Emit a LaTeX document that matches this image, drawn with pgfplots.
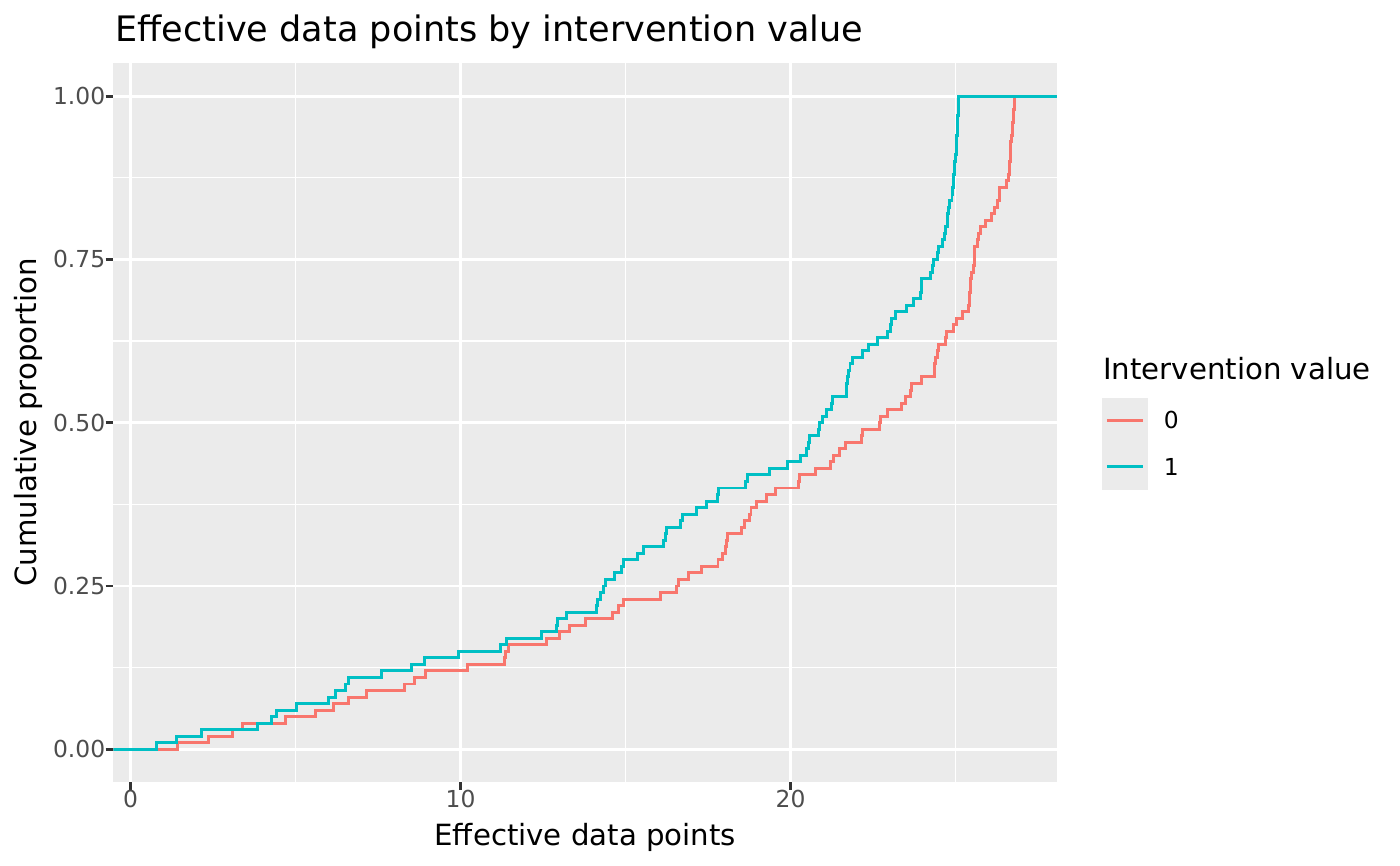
\documentclass[border=0pt]{standalone}
\usepackage{fontspec}
\setmainfont{DejaVu Sans}
\usepackage{pgfplots}
\pgfplotsset{compat=1.18}
\definecolor{cRed}{HTML}{F8766D}
\definecolor{cCyan}{HTML}{00BFC4}
\definecolor{panelbg}{HTML}{EBEBEB}
\definecolor{grey30}{HTML}{4D4D4D}
\definecolor{grey20}{HTML}{333333}
\begin{document}
\begin{tikzpicture}
\path[use as bounding box] (0,0) rectangle (504bp,311.76bp);
\begin{axis}[
  at={(40.8bp,30.24bp)}, anchor=south west,
  scale only axis, width=339.7bp, height=258.7bp,
  xmin=-0.52, xmax=28.07, ymin=-0.05, ymax=1.05,
  axis background/.style={fill=panelbg},
  axis line style={draw=none},
  xtick={0,10,20}, xticklabels={0,10,20},
  ytick={0,0.25,0.5,0.75,1}, yticklabels={0.00,0.25,0.50,0.75,1.00},
  minor xtick={5,15,25}, minor ytick={0.125,0.375,0.625,0.875},
  xtick pos=lower, ytick pos=left,
  tick align=outside,
  major tick length=2.75pt, minor tick length=0pt,
  major tick style={grey20, line width=1.07pt},
  minor tick style={draw=none},
  grid=both,
  major grid style={white, line width=1.07pt},
  minor grid style={white, line width=0.53pt},
  ticklabel style={font=\fontsize{8.45}{10}\selectfont, text=grey30},
  xticklabel style={anchor=north, inner sep=0pt},
  yticklabel style={anchor=east, inner sep=0pt},
]
% Intervention value 0
\addplot[const plot, cRed, line width=1.07pt] coordinates {
(-0.52,0) (1.42,0.01) (2.36,0.02) (3.10,0.03) (3.40,0.04) (4.70,0.05)
(5.60,0.06) (6.15,0.07) (6.60,0.08) (7.15,0.09) (8.30,0.10) (8.60,0.11)
(8.95,0.12) (10.20,0.13) (11.33,0.14) (11.36,0.15) (11.45,0.16) (12.60,0.17)
(13.00,0.18) (13.30,0.19) (13.80,0.20) (14.60,0.21) (14.80,0.22) (14.95,0.23)
(16.05,0.24) (16.55,0.25) (16.60,0.26) (16.90,0.27) (17.30,0.28) (17.80,0.29)
(17.95,0.30) (18.02,0.31) (18.05,0.32) (18.10,0.33) (18.50,0.34) (18.60,0.35)
(18.75,0.36) (18.80,0.37) (18.97,0.38) (19.27,0.39) (19.55,0.40) (20.23,0.41)
(20.26,0.42) (20.74,0.43) (21.20,0.44) (21.30,0.45) (21.48,0.46) (21.65,0.47)
(22.14,0.48) (22.17,0.49) (22.69,0.50) (22.72,0.51) (22.93,0.52) (23.37,0.53)
(23.47,0.54) (23.62,0.55) (23.65,0.56) (23.98,0.57) (24.35,0.58) (24.37,0.59)
(24.39,0.60) (24.46,0.61) (24.49,0.62) (24.68,0.63) (24.71,0.64) (24.93,0.65)
(25.04,0.66) (25.22,0.67) (25.39,0.68) (25.41,0.69) (25.43,0.70) (25.44,0.71)
(25.46,0.72) (25.48,0.73) (25.55,0.74) (25.56,0.75) (25.57,0.76) (25.58,0.77)
(25.66,0.78) (25.69,0.79) (25.74,0.80) (25.90,0.81) (26.08,0.82) (26.18,0.83)
(26.26,0.84) (26.32,0.85) (26.34,0.86) (26.53,0.87) (26.60,0.88) (26.63,0.89)
(26.64,0.90) (26.65,0.91) (26.66,0.92) (26.67,0.93) (26.69,0.94) (26.71,0.95)
(26.73,0.96) (26.74,0.97) (26.75,0.98) (26.77,0.99) (26.78,1.00) (28.07,1.00)
};
% Intervention value 1
\addplot[const plot, cCyan, line width=1.07pt] coordinates {
(-0.52,0) (0.78,0.01) (1.40,0.02) (2.15,0.03) (3.85,0.04) (4.27,0.05)
(4.42,0.06) (5.03,0.07) (6.00,0.08) (6.20,0.09) (6.50,0.10) (6.60,0.11)
(7.60,0.12) (8.50,0.13) (8.90,0.14) (9.95,0.15) (11.20,0.16) (11.40,0.17)
(12.45,0.18) (12.90,0.19) (12.95,0.20) (13.20,0.21) (14.12,0.22) (14.14,0.23)
(14.24,0.24) (14.33,0.25) (14.40,0.26) (14.65,0.27) (14.88,0.28) (14.93,0.29)
(15.35,0.30) (15.55,0.31) (16.15,0.32) (16.20,0.33) (16.25,0.34) (16.65,0.35)
(16.72,0.36) (17.15,0.37) (17.45,0.38) (17.78,0.39) (17.82,0.40) (18.63,0.41)
(18.68,0.42) (19.36,0.43) (19.90,0.44) (20.30,0.45) (20.48,0.46) (20.53,0.47)
(20.58,0.48) (20.84,0.49) (20.88,0.50) (20.98,0.51) (21.10,0.52) (21.23,0.53)
(21.27,0.54) (21.68,0.55) (21.70,0.56) (21.72,0.57) (21.75,0.58) (21.80,0.59)
(21.88,0.60) (22.19,0.61) (22.36,0.62) (22.63,0.63) (22.94,0.64) (23.03,0.65)
(23.06,0.66) (23.17,0.67) (23.52,0.68) (23.72,0.69) (23.94,0.70) (23.96,0.71)
(23.98,0.72) (24.23,0.73) (24.31,0.74) (24.34,0.75) (24.46,0.76) (24.49,0.77)
(24.60,0.78) (24.67,0.79) (24.69,0.80) (24.74,0.81) (24.76,0.82) (24.79,0.83)
(24.81,0.84) (24.89,0.85) (24.91,0.86) (24.94,0.87) (24.95,0.88) (24.96,0.89)
(24.97,0.90) (25.01,0.91) (25.02,0.92) (25.03,0.93) (25.04,0.94) (25.06,0.95)
(25.07,0.96) (25.07,0.97) (25.08,0.98) (25.08,0.99) (25.09,1.00) (28.07,1.00)
};
\end{axis}
% title and axis titles
\node[anchor=base west, inner sep=0pt, font=\fontsize{12.67}{15}\selectfont] at (41.4bp,296.75bp) {Effective data points by intervention value};
\node[anchor=base, inner sep=0pt, font=\fontsize{10.56}{13}\selectfont] at (210.7bp,7.56bp) {Effective data points};
\node[anchor=base, rotate=90, inner sep=0pt, font=\fontsize{10.56}{13}\selectfont] at (12.96bp,159.6bp) {Cumulative proportion};
% legend
\node[anchor=base west, inner sep=0pt, font=\fontsize{10.56}{13}\selectfont] at (397bp,174.96bp) {Intervention value};
\fill[panelbg] (396.7bp,135.36bp) rectangle (413.3bp,168.37bp);
\draw[cRed, line width=1.07pt] (398.5bp,160.45bp) -- (411.5bp,160.45bp);
\draw[cCyan, line width=1.07pt] (398.5bp,143.75bp) -- (411.5bp,143.75bp);
\node[anchor=west, inner sep=0pt, font=\fontsize{8.45}{10}\selectfont] at (418.8bp,160.45bp) {0};
\node[anchor=west, inner sep=0pt, font=\fontsize{8.45}{10}\selectfont] at (418.8bp,143.75bp) {1};
\end{tikzpicture}
\end{document}
